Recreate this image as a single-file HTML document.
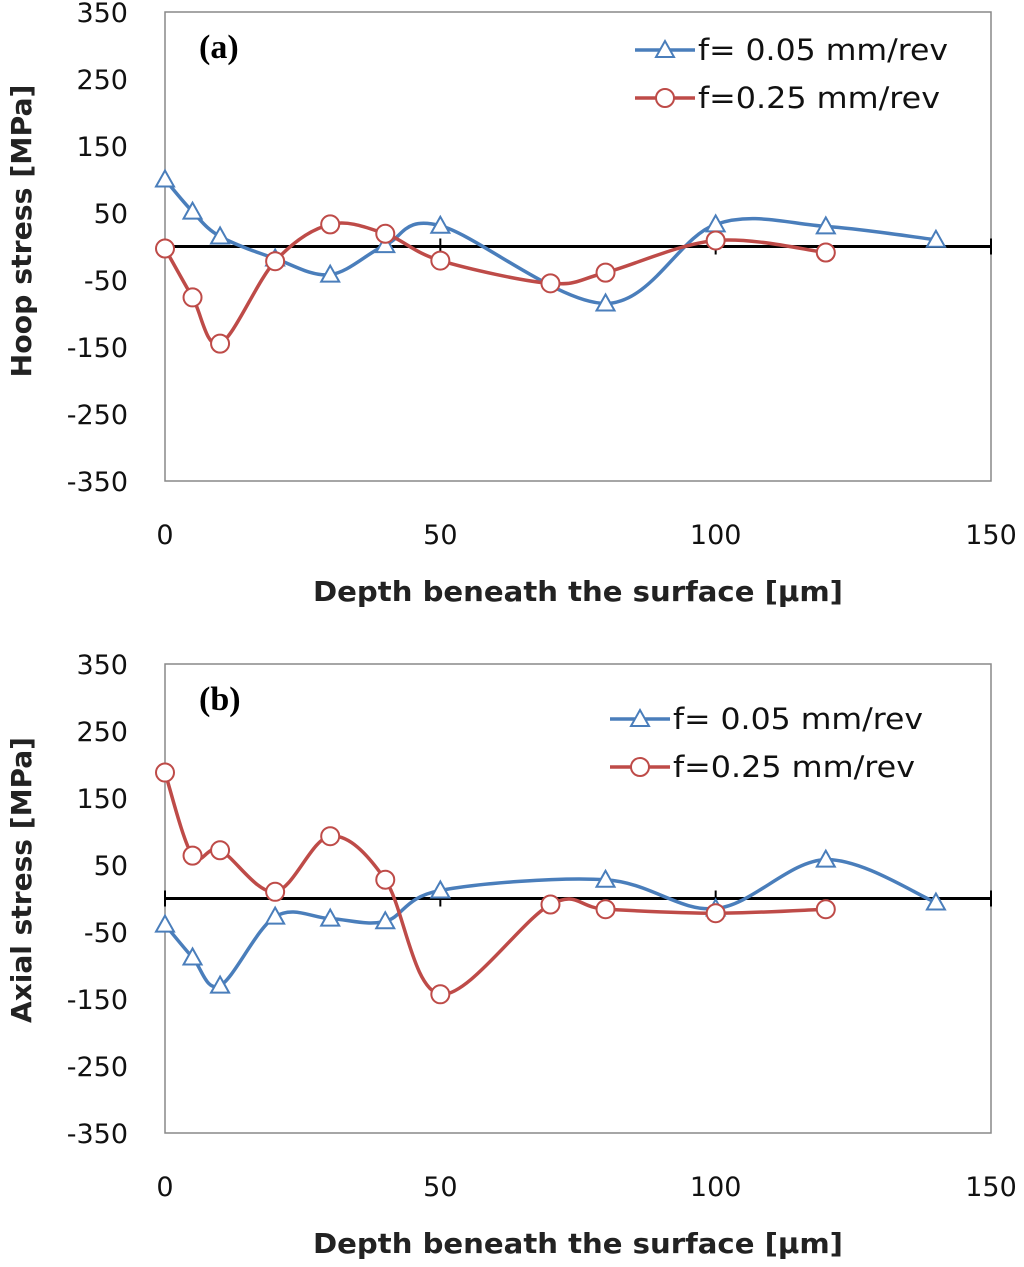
<!DOCTYPE html>
<html><head><meta charset="utf-8"><style>
body{margin:0;background:#fff;}
svg text{font-family:"DejaVu Sans","Liberation Sans",sans-serif;}
</style></head><body>
<svg id="svg" width="1024" height="1262" xmlns="http://www.w3.org/2000/svg"></svg>
<script>
const xTicks=[0,50,100,150];
const yTicks=[350,250,150,50,-50,-150,-250,-350];
const aX1=[0,5,10,20,30,40,50,80,100,120,140];
const aY1=[100,52,15,-18,-42,2,31,-85,33,30,10];
const aX2=[0,5,10,20,30,40,50,70,80,100,120];
const aY2=[-3,-76,-145,-22,33,19,-21,-55,-39,9,-9];
const bX1=[0,5,10,20,30,40,50,80,100,120,140];
const bY1=[-39,-88,-130,-27,-30,-34,12,28,-15,58,-6];
const bX2=[0,5,10,20,30,40,50,70,80,100,120];
const bY2=[188,64,72,10,93,28,-143,-9,-16,-22,-16];
const legendLabels=["f= 0.05 mm/rev","f=0.25 mm/rev"];
const svg=document.getElementById('svg');
const NS='http://www.w3.org/2000/svg';
function mk(tag,attrs,parent){const e=document.createElementNS(NS,tag);for(const k in attrs)e.setAttribute(k,attrs[k]);(parent||svg).appendChild(e);return e;}
function spline(pts){let d=`M${pts[0][0]},${pts[0][1]}`;for(let i=0;i<pts.length-1;i++){const p0=pts[Math.max(0,i-1)],p1=pts[i],p2=pts[i+1],p3=pts[Math.min(pts.length-1,i+2)];const t=1/6;d+=` C${p1[0]+(p2[0]-p0[0])*t},${p1[1]+(p2[1]-p0[1])*t} ${p2[0]-(p3[0]-p1[0])*t},${p2[1]-(p3[1]-p1[1])*t} ${p2[0]},${p2[1]}`;}return d;}
function tri(g,x,y,c){return mk('polygon',{points:`${x},${y-9} ${x-9},${y+7} ${x+9},${y+7}`,fill:'#fff',stroke:c,'stroke-width':2},g);}
function chart(id,top,letter,title,xs1,ys1,xs2,ys2,legX,legY,titleLen,titleC){
  const g=mk('g',{});
  
  
  const L=165,R=991,T=top,B=top+469;
  const sx=v=>L+(v-0)/150*(R-L);
  const sy=v=>T+(350-v)/700*(B-T);
  mk('rect',{x:L,y:T,width:R-L,height:B-T,fill:'none',stroke:'#888','stroke-width':1.5},g);
  yTicks.forEach(v=>{const t=mk('text',{x:L-37,y:sy(v)+10,'text-anchor':'end','font-size':27,fill:'#111'},g);t.textContent=v;});
  xTicks.forEach(v=>{const t=mk('text',{x:sx(v),y:B+63,'text-anchor':'middle','font-size':27,fill:'#111'},g);t.textContent=v;
    mk('line',{x1:sx(v),x2:sx(v),y1:sy(0)-8,y2:sy(0)+8,stroke:'#000','stroke-width':2},g);});
  mk('line',{x1:L,x2:R,y1:sy(0),y2:sy(0),stroke:'#000','stroke-width':3},g);
  const xt=mk('text',{x:313,y:B+120,'font-size':28,'font-weight':'bold',fill:'#222',textLength:530,lengthAdjust:'spacingAndGlyphs'},g);xt.textContent='Depth beneath the surface [μm]';
  
  const yt=mk('text',{x:-titleLen/2,y:0,'font-size':28,'font-weight':'bold',fill:'#222',textLength:titleLen,lengthAdjust:'spacingAndGlyphs',transform:`translate(31,${titleC}) rotate(-90)`},g);yt.textContent=title;
  
  const lt=mk('text',{x:199,y:T+46,'font-size':34,'font-weight':'bold',fill:'#000',style:'font-family:"Liberation Serif",serif'},g);lt.textContent=`(${letter})`;
  
  const p1=mk('path',{d:spline(xs1.map((x,i)=>[sx(x),sy(ys1[i])])),fill:'none',stroke:'#4a7ebb','stroke-width':3.5},g);
  
  const p2=mk('path',{d:spline(xs2.map((x,i)=>[sx(x),sy(ys2[i])])),fill:'none',stroke:'#be4b48','stroke-width':3.5},g);
  
  xs1.forEach((x,i)=>{const m=tri(g,sx(x),sy(ys1[i]),'#4a7ebb');});
  xs2.forEach((x,i)=>{const m=mk('circle',{cx:sx(x),cy:sy(ys2[i]),r:9,fill:'#fff',stroke:'#be4b48','stroke-width':2},g);});
  [['#4a7ebb',0,250],['#be4b48',1,242]].forEach(([c,i,w])=>{const y=legY+i*48;
    const lg=mk('g',{},g);
    mk('line',{x1:legX,x2:legX+60,y1:y,y2:y,stroke:c,'stroke-width':3.5},lg);
    if(i==0)tri(lg,legX+30,y,c);else mk('circle',{cx:legX+30,cy:y,r:9,fill:'#fff',stroke:c,'stroke-width':2},lg);
    const t=mk('text',{x:legX+63,y:y+10,'font-size':29,fill:'#111',textLength:w,lengthAdjust:'spacingAndGlyphs'},lg);t.textContent=legendLabels[i];});
}
chart('hoop-stress-chart',12,'a','Hoop stress [MPa]',aX1,aY1,aX2,aY2,635,50,293,231);
chart('axial-stress-chart',664,'b','Axial stress [MPa]',bX1,bY1,bX2,bY2,610,719,286,880);
</script>
</body></html>
